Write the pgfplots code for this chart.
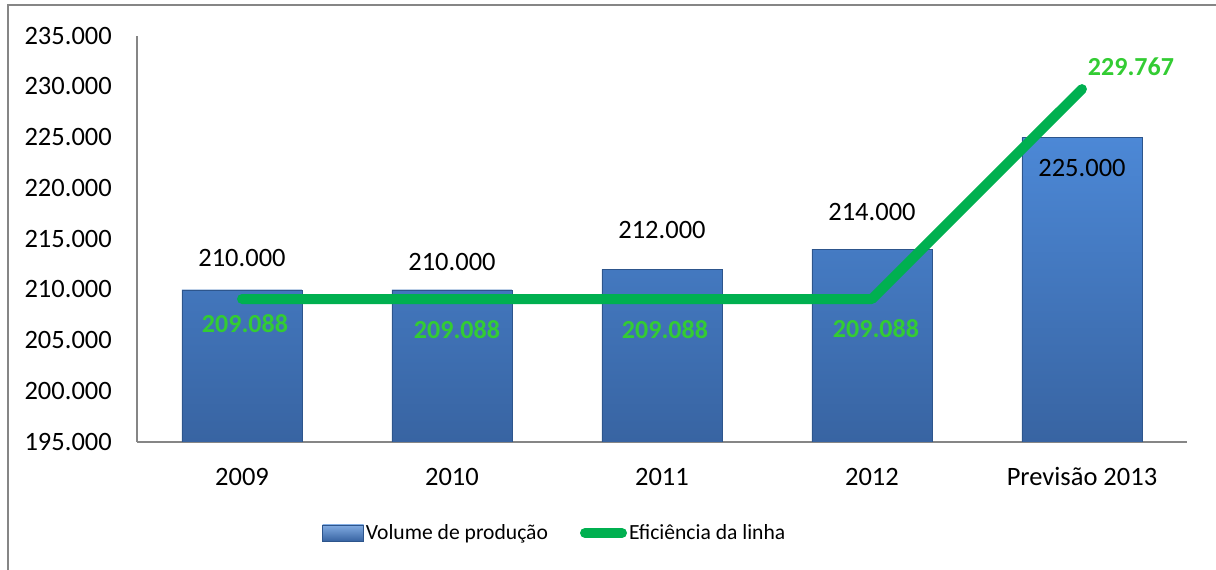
\documentclass[border=0pt]{standalone}
\usepackage{fontspec}
\setmainfont{Carlito}
\usepackage{pgfplots}
\pgfplotsset{compat=1.18}
\definecolor{barTop}{RGB}{76,136,214}
\definecolor{barBot}{RGB}{56,100,162}
\definecolor{barEdge}{RGB}{45,85,140}
\definecolor{lineGreen}{RGB}{0,176,80}
\definecolor{lblGreen}{RGB}{51,204,51}
\definecolor{axGray}{RGB}{134,134,134}
\newcommand{\bigf}{\fontsize{26.5pt}{31pt}\selectfont}
\newcommand{\grf}{\fontsize{26pt}{31pt}\selectfont\bfseries}
\newcommand{\legf}{\fontsize{21.6pt}{26pt}\selectfont}
\begin{document}
\begin{tikzpicture}[x=1pt,y=1pt]
\path[use as bounding box] (0,0) rectangle (1216,570);
\draw[axGray, line width=2pt] (8,-5) -- (8,564.5) -- (1225,564.5);
\begin{axis}[
  at={(137pt,128pt)}, anchor=south west,
  scale only axis, width=1050pt, height=406pt,
  xmin=-0.5, xmax=4.5, ymin=195000, ymax=235000,
  ytick={195000,200000,...,235000},
  scaled y ticks=false,
  xtick={0,1,2,3,4}, xticklabels={2009,2010,2011,2012,Previsão 2013},
  axis x line*=bottom, axis y line*=left,
  axis line style={axGray, line width=1.5pt, -},
  major tick length=0pt,
  tick label style={font=\bigf},
  /pgf/number format/.cd, 1000 sep={.}, fixed, assume math mode=true,
  /pgfplots/.cd,
  yticklabel style={anchor=east, inner sep=0pt, xshift=-25pt, text height=16.5pt, text depth=0pt},
  xticklabel style={anchor=north, inner sep=0pt, yshift=-27pt, text height=16.5pt, text depth=5pt},
  legend columns=2,
  legend style={draw=none, fill=none, at={(0.398,-0.224)}, anchor=center, font=\legf,
    /tikz/every even column/.append style={column sep=30pt}},
]
\addplot[ybar, bar width=120pt, draw=barEdge, top color=barTop, bottom color=barBot,
  legend image code/.code={\shade[top color=barTop!70!white, bottom color=barBot, draw=barEdge] (0pt,-8pt) rectangle (41pt,8pt);}]
  coordinates {(0,210000) (1,210000) (2,212000) (3,214000) (4,225000)};
\addlegendentry{Volume de produção}
\addplot[lineGreen, line width=10pt, line cap=round, line join=round,
  legend image code/.code={\draw[lineGreen, line width=10pt, line cap=round] (5pt,0pt) -- (42pt,0pt);}]
  coordinates {(0,209088) (1,209088) (2,209088) (3,209088) (4,229767)};
\addlegendentry{Eficiência da linha}
\node[font=\bigf, yshift=32pt] at (axis cs:0,210000) {210.000};
\node[font=\bigf, yshift=28pt] at (axis cs:1,210000) {210.000};
\node[font=\bigf, yshift=39pt] at (axis cs:2,212000) {212.000};
\node[font=\bigf, yshift=37pt] at (axis cs:3,214000) {214.000};
\node[font=\bigf, yshift=-31pt] at (axis cs:4,225000) {225.000};
\node[font=\grf, text=lblGreen, xshift=3pt, yshift=-25pt] at (axis cs:0,209088) {209.088};
\node[font=\grf, text=lblGreen, xshift=5pt, yshift=-31pt] at (axis cs:1,209088) {209.088};
\node[font=\grf, text=lblGreen, xshift=3pt, yshift=-31pt] at (axis cs:2,209088) {209.088};
\node[font=\grf, text=lblGreen, xshift=4pt, yshift=-30pt] at (axis cs:3,209088) {209.088};
\node[font=\grf, text=lblGreen, xshift=49pt, yshift=22pt] at (axis cs:4,229767) {229.767};
\end{axis}
\end{tikzpicture}
\end{document}
